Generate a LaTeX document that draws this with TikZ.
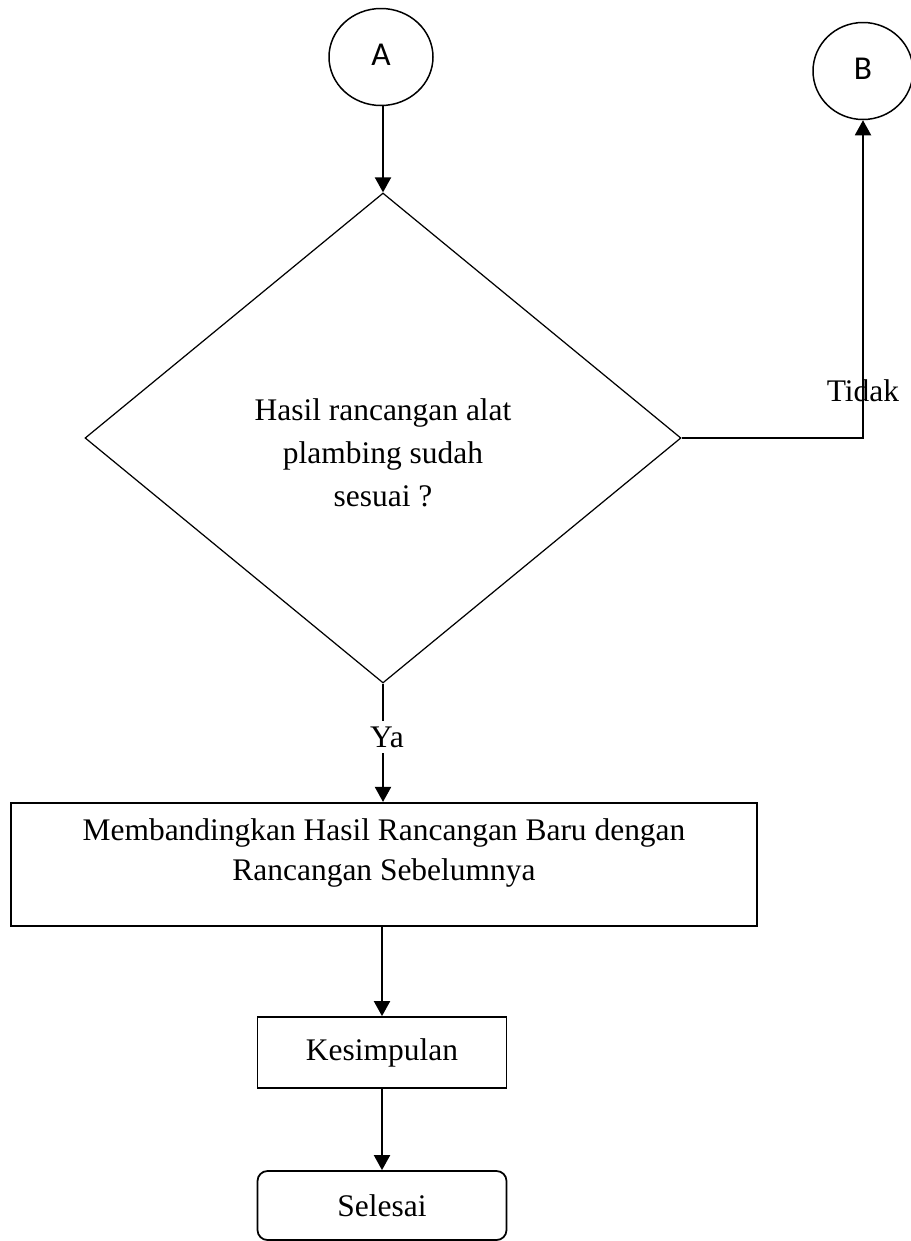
\documentclass[tikz,border=0pt]{standalone}
\usepackage{fontspec}
\setmainfont{Liberation Serif}
\newfontfamily\lettersf{Carlito}
\usetikzlibrary{shapes,arrows.meta,positioning}

\begin{document}
\begin{tikzpicture}[
	font=\fontsize{17.9}{23}\selectfont,
	arr/.style={line width=1.1pt,-{Triangle[width=0.32cm,length=0.3cm]}},
	conn/.style={draw,ellipse,line width=0.85pt,inner sep=0pt,font=\lettersf\fontsize{19}{22}\selectfont},
	kotak/.style={draw,rectangle,line width=1pt,inner sep=0pt}
]
	\useasboundingbox (0,0) rectangle (18.22,-24.82);
	\node[conn,minimum width=2.08cm,minimum height=1.94cm] (A) at (7.62,-1.14) {\raisebox{3pt}{A}};
	\node[conn,minimum width=2.0cm,minimum height=1.94cm] (B) at (17.26,-1.42) {\raisebox{3pt}{B}};
	\node[draw,diamond,line width=0.7pt,inner sep=0pt,minimum width=11.92cm,minimum height=9.8cm,
		label={[align=center,yshift=-0.3cm,font=\fontsize{17.9}{24.5}\selectfont]center:Hasil rancangan alat\\plambing sudah\\sesuai ?}] (dec) at (7.66,-8.76) {};
	\node[inner sep=3pt] (ya) at (7.74,-14.74) {Ya};
	\node[kotak,line width=1.2pt,minimum width=14.92cm,minimum height=2.46cm,
		label={[align=center,yshift=0.23cm]center:Membandingkan Hasil Rancangan Baru dengan\\Rancangan Sebelumnya}] (banding) at (7.68,-17.29) {};
	\node[kotak,minimum width=4.98cm,minimum height=1.42cm] (kes) at (7.64,-21.05) {Kesimpulan};
	\node[kotak,rounded corners=0.2cm,minimum width=4.98cm,minimum height=1.38cm] (sel) at (7.64,-24.11) {Selesai};

	\draw[arr] (A.south -| dec.north) -- (dec.north);
	\draw[arr] (dec.east) -| node[pos=0.575] {Tidak} (B.south);
	\draw[line width=0.7pt] (dec.south) -- (dec.south |- ya.north);
	\draw[arr] (dec.south |- ya.south) -- (dec.south |- banding.north);
	\draw[arr] (kes.north |- banding.south) -- (kes.north);
	\draw[arr] (kes.south) -- (sel.north);
\end{tikzpicture}
\end{document}
